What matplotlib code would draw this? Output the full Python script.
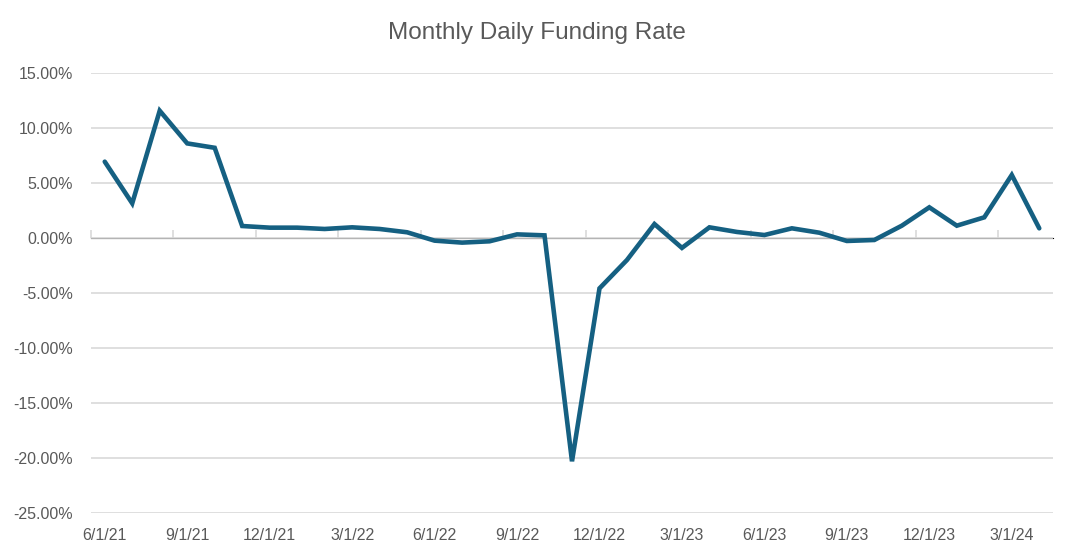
import matplotlib
matplotlib.use("Agg")
import matplotlib.pyplot as plt
from matplotlib.ticker import FuncFormatter

# monthly data, 6/1/21 .. 4/1/24
months = ["6/1/21", "7/1/21", "8/1/21", "9/1/21", "10/1/21", "11/1/21",
          "12/1/21", "1/1/22", "2/1/22", "3/1/22", "4/1/22", "5/1/22",
          "6/1/22", "7/1/22", "8/1/22", "9/1/22", "10/1/22", "11/1/22",
          "12/1/22", "1/1/23", "2/1/23", "3/1/23", "4/1/23", "5/1/23",
          "6/1/23", "7/1/23", "8/1/23", "9/1/23", "10/1/23", "11/1/23",
          "12/1/23", "1/1/24", "2/1/24", "3/1/24", "4/1/24"]

funding_rate = [6.94, 3.15, 11.57, 8.6, 8.2, 1.09, 0.94, 0.94, 0.82, 0.97, 0.82,
                0.52, -0.24, -0.42, -0.3, 0.33, 0.24, -20.3, -4.58, -2.0, 1.27,
                -0.9, 0.97, 0.55, 0.27, 0.88, 0.48, -0.27, -0.18, 1.12, 2.79,
                1.12, 1.88, 5.73, 0.88]

y_ticks = [-25, -20, -15, -10, -5, 0, 5, 10, 15]

plt.rcParams['font.family'] = ['Liberation Sans', 'DejaVu Sans']
txt = "#595959"
grid = "#d9d9d9"

fig = plt.figure(figsize=(10.74, 5.6), dpi=100)
ax = fig.add_axes([91/1074, 1 - 513/560, 962/1074, 440/560])

x = list(range(len(months)))
ax.plot(x, funding_rate, color="#156082", linewidth=3.3, solid_joinstyle="miter",
        solid_capstyle="round", zorder=3)

ax.set_xlim(-0.5, len(months) - 0.5)
ax.set_ylim(-25, 15)
ax.set_yticks(y_ticks)
ax.yaxis.set_major_formatter(FuncFormatter(lambda v, p: f"{v:.2f}%"))
ax.grid(axis="y", color=grid, linewidth=1.2)
ax.set_axisbelow(True)

# date labels every 3 months at the bottom
ax.set_xticks(x[::3])
ax.set_xticklabels(months[::3])
ax.tick_params(axis="both", length=0, labelsize=11.5, labelcolor=txt)
ax.tick_params(axis="x", pad=11)
ax.tick_params(axis="y", pad=13)

for s in ax.spines.values():
    s.set_visible(False)

# category axis crossing at zero, tick marks between categories
zero_frac = (0 - (-25)) / 40
sec = ax.secondary_xaxis(zero_frac)
sec.set_xticks([i - 0.5 for i in x[::3]])
sec.set_xticklabels([])
sec.tick_params(direction="out", length=6, width=1.2, color=grid)
sec.spines["bottom"].set_color(grid)
sec.spines["bottom"].set_linewidth(1.2)

fig.suptitle("Monthly Daily Funding Rate", fontsize=17.5, color=txt, y=1 - 33/560, va="center")

plt.savefig("out.png", dpi=100)
